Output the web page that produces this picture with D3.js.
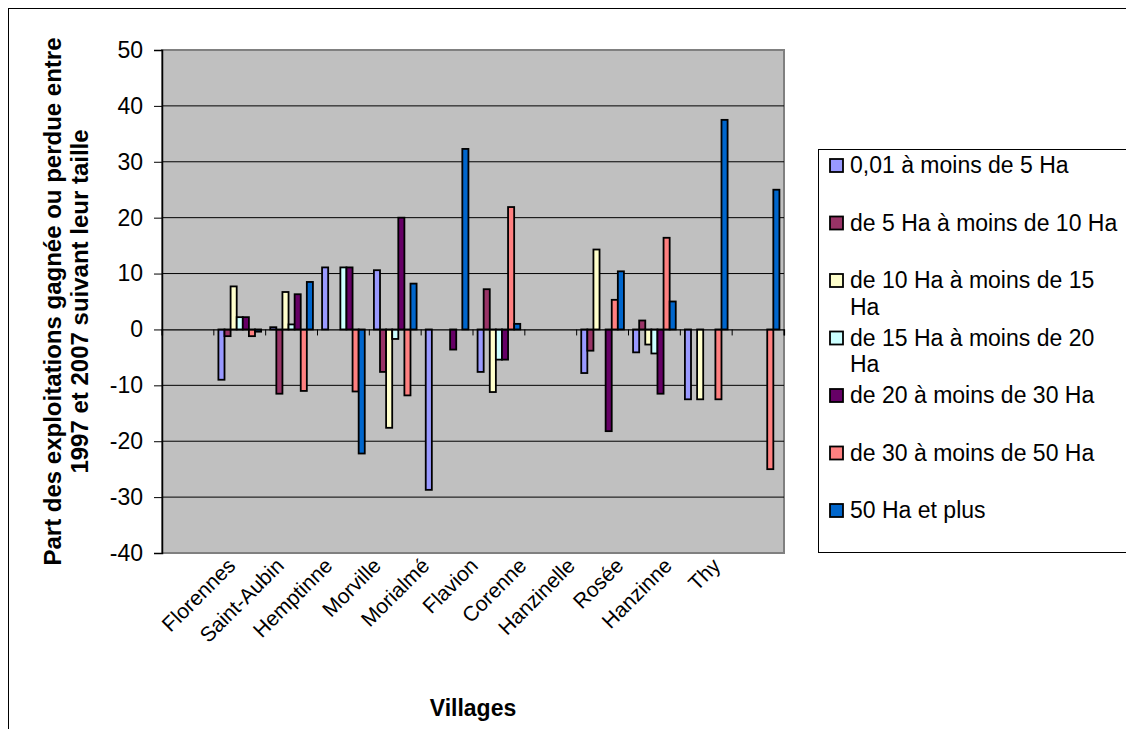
<!DOCTYPE html>
<html>
<head>
<meta charset="utf-8">
<script src="https://cdn.jsdelivr.net/npm/d3@7"></script>
<style>
  body { margin: 0; background: #fff; }
  text { font-family: Arial, "Liberation Sans", sans-serif; }
</style>
</head>
<body>
<svg width="1126" height="729"></svg>
<script>
// 12 category slots on the axis, 11 village labels
const slots = d3.range(12);
const villages = ["Florennes", "Saint-Aubin", "Hemptinne", "Morville", "Morialmé", "Flavion",
  "Corenne", "Hanzinelle", "Rosée", "Hanzinne", "Thy"];

const seriesNames = ["0,01 à moins de 5 Ha", "de 5 Ha à moins de 10 Ha", "de 10 Ha à moins de 15 Ha",
  "de 15 Ha à moins de 20 Ha", "de 20 à moins de 30 Ha", "de 30 à moins de 50 Ha", "50 Ha et plus"];
const legendLines = [["0,01 à moins de 5 Ha"], ["de 5 Ha à moins de 10 Ha"], ["de 10 Ha à moins de 15", "Ha"],
  ["de 15 Ha à moins de 20", "Ha"], ["de 20 à moins de 30 Ha"], ["de 30 à moins de 50 Ha"], ["50 Ha et plus"]];
const colors = ["#9999FF", "#993366", "#FFFFCC", "#CCFFFF", "#660066", "#FF8080", "#0066CC"];

const s0 = [null, -9, 0.4, 11.1, 10.6, -28.7, -7.6, null, -7.8, -4.1, -12.5, null];
const s1 = [null, -1.2, -11.5, null, -7.6, null, 7.2, null, -3.8, 1.6, null, null];
const s2 = [null, 7.7, 6.7, null, -17.6, null, -11.2, null, 14.3, -2.7, -12.5, null];
const s3 = [null, 2.2, 0.9, 11.1, -1.7, null, -5.4, null, null, -4.3, null, null];
const s4 = [null, 2.2, 6.3, 11.1, 20, -3.6, -5.4, null, -18.2, -11.5, null, null];
const s5 = [null, -1.2, -11.0, -11.1, -11.8, null, 21.9, null, 5.3, 16.4, -12.5, -25];
const s6 = [null, -0.4, 8.5, -22.2, 8.2, 32.3, 1.0, null, 10.4, 5.0, 37.5, 25];
const allSeries = [s0, s1, s2, s3, s4, s5, s6];

const yTicks = d3.range(-40, 51, 10);

const svg = d3.select("svg");
const mLeft = 162, mTop = 50, W = 622, H = 503;

// outer chart border
svg.append("rect").attr("x", 8.5).attr("y", 8.5).attr("width", 1140).attr("height", 740)
  .attr("fill", "#fff").attr("stroke", "#000").attr("stroke-width", 1);

const x = d3.scaleBand().domain(slots).range([0, W]);
const x1 = d3.scaleBand().domain(d3.range(7)).range([0, x.bandwidth()]).paddingOuter(0.75);
const y = d3.scaleLinear().domain([-40, 50]).range([H, 0]);
const xLab = d3.scalePoint().domain(villages).range([W * 0.12, W * 0.9]);

const g = svg.append("g").attr("transform", `translate(${mLeft},${mTop})`);

g.append("rect").attr("width", W).attr("height", H).attr("fill", "#C0C0C0")
  .attr("stroke", "#808080").attr("stroke-width", 2);

// gridlines
g.selectAll(".grid").data(yTicks.filter(d => d !== 50 && d !== -40 && d !== 0)).enter()
  .append("line").attr("x1", 0).attr("x2", W)
  .attr("y1", d => y(d)).attr("y2", d => y(d))
  .attr("stroke", "#000").attr("stroke-width", 1);

// y axis
const yAxis = g.append("g").call(d3.axisLeft(y).tickValues(yTicks).tickSize(8).tickPadding(11)
  .tickFormat(d => String(d)));
yAxis.select(".domain").attr("stroke", "#000").attr("stroke-width", 1.5);
yAxis.selectAll("text").attr("font-size", 23).attr("fill", "#000");

// bars
allSeries.forEach((vals, si) => {
  g.selectAll(".bar" + si)
    .data(slots.filter(i => vals[i] !== null))
    .enter().append("rect")
    .attr("x", i => x(i) + x1(si))
    .attr("width", x1.bandwidth())
    .attr("y", i => y(Math.max(0, vals[i])))
    .attr("height", i => Math.abs(y(vals[i]) - y(0)))
    .attr("fill", colors[si])
    .attr("stroke", "#000").attr("stroke-width", 1.8);
});

// category axis at zero
const xAxis = g.append("g").attr("transform", `translate(0,${y(0)})`)
  .call(d3.axisBottom(x).tickSize(6).tickFormat(""));
xAxis.select(".domain").attr("stroke", "#000").attr("stroke-width", 1.2);
xAxis.selectAll(".tick line").attr("transform", `translate(${x.bandwidth() / 2},0)`);
g.append("line").attr("x1", 0).attr("x2", 0).attr("y1", y(0)).attr("y2", y(0) + 6).attr("stroke", "#000");

// village labels
g.selectAll(".vlab").data(villages).enter().append("text")
  .attr("transform", d => `translate(${xLab(d)},${H + 14}) rotate(-45)`)
  .attr("text-anchor", "end").attr("font-size", 21).attr("fill", "#000")
  .text(d => d);

// axis titles
svg.append("text").attr("x", 473).attr("y", 716).attr("text-anchor", "middle")
  .attr("font-size", 23).attr("font-weight", "bold").text("Villages");
const yt = svg.append("text").attr("transform", `translate(0,${mTop + H / 2}) rotate(-90)`)
  .attr("text-anchor", "middle").attr("font-size", 24).attr("font-weight", "bold");
yt.append("tspan").attr("x", 0).attr("y", 61).text("Part des exploitations gagnée ou perdue entre");
yt.append("tspan").attr("x", 0).attr("y", 88).text("1997 et 2007 suivant leur taille");

// legend
const lg = svg.append("g").attr("transform", "translate(818,149)");
lg.append("rect").attr("x", 0.5).attr("y", 0.5).attr("width", 400).attr("height", 403)
  .attr("fill", "#fff").attr("stroke", "#000").attr("stroke-width", 1);
legendLines.forEach((lines, i) => {
  const cy = 16 + i * 57.5;
  lg.append("rect").attr("x", 12).attr("y", cy - 6).attr("width", 13).attr("height", 13)
    .attr("fill", colors[i]).attr("stroke", "#000").attr("stroke-width", 1.8);
  lines.forEach((t, j) => {
    lg.append("text").attr("x", 32).attr("y", cy + 8 + j * 26.7)
      .attr("font-size", 23).attr("fill", "#000").text(t);
  });
});
</script>
</body>
</html>
